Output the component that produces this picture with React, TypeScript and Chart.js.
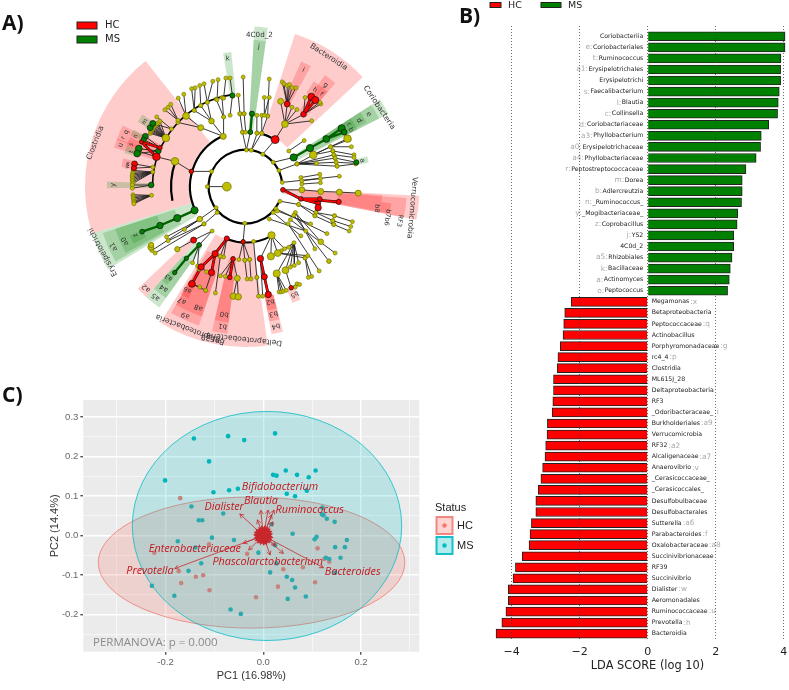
import React, { useEffect, useRef } from "react";
import { Chart, registerables } from "chart.js";
Chart.register(...registerables);

/* ---------- Panel B data ---------- */
const msNames = ["Coriobacteriia","Coriobacteriales","Ruminococcus","Erysipelotrichales","Erysipelotrichi","Faecalibacterium","Blautia","Collinsella","Coriobacteriaceae","Phyllobacterium","Erysipelotrichaceae","Phyllobacteriaceae","Peptostreptococcaceae","Dorea","Adlercreutzia","_Ruminococcus_","_Mogibacteriaceae_","Coprobacillus","YS2","4C0d_2","Rhizobiales","Bacillaceae","Actinomyces","Peptococcus"];
const msKeys = ["","e:","t:","a1:","","s:","l:","c:","d:","a3:","a0:","a4:","r:","m:","b:","n:","y:","z:","j:","","a5:","k:","a:","o:"];
const msScores = [4.04,4.04,3.92,3.91,3.91,3.87,3.84,3.82,3.56,3.34,3.32,3.19,2.89,2.78,2.78,2.76,2.65,2.63,2.53,2.53,2.48,2.43,2.40,2.35];
const hcNames = ["Megamonas","Betaproteobacteria","Peptococcaceae","Actinobacillus","Porphyromonadaceae","rc4_4","Clostridia","ML615J_28","Deltaproteobacteria","RF3","_Odoribacteraceae_","Burkholderiales","Verrucomicrobia","RF32","Alcaligenaceae","Anaerovibrio","_Cerasicoccaceae_","_Cerasicoccales_","Desulfobulbaceae","Desulfobacterales","Sutterella","Parabacteroides","Oxalobacteraceae","Succinivibrionaceae","RF39","Succinivibrio","Dialister","Aeromonadales","Ruminococcaceae","Prevotella","Bacteroidia"];
const hcKeys = [":x","",":q","",":g",":p","","","","",":i",":a9","",":a2",":a7",":v","","","","",":a6",":f",":a8","","","",":w","",":u",":h",""];
const hcScores = [-2.25,-2.44,-2.47,-2.49,-2.57,-2.64,-2.66,-2.77,-2.77,-2.79,-2.81,-2.95,-2.96,-3.0,-3.02,-3.09,-3.14,-3.22,-3.29,-3.29,-3.42,-3.46,-3.49,-3.69,-3.89,-3.96,-4.10,-4.10,-4.17,-4.29,-4.46];
const ldaTicks = [-4,-2,0,2,4];

/* ---------- Panel C data ---------- */
const msPoints = [[0.024,0.259],[-0.072,0.252],[-0.039,0.242],[-0.142,0.246],[-0.111,0.188],[-0.201,0.140],[0.020,0.154],[0.027,0.152],[0.046,0.165],[0.069,0.154],[0.107,0.165],[0.093,0.148],[-0.102,0.110],[-0.070,0.115],[-0.052,0.119],[0.048,0.106],[0.065,0.100],[0.089,0.114],[-0.147,0.074],[-0.082,0.056],[-0.132,0.039],[-0.125,0.039],[0.017,0.029],[0.121,0.071],[0.120,0.054],[0.123,0.052],[0.130,0.043],[0.146,0.035],[0.060,0.005],[0.171,-0.011],[0.109,-0.003],[0.105,-0.009],[0.167,-0.029],[0.147,-0.029],[0.158,-0.056],[0.128,-0.056],[0.135,-0.059],[-0.105,-0.005],[-0.060,-0.011],[-0.175,-0.014],[-0.139,-0.030],[-0.127,-0.070],[-0.153,-0.089],[-0.010,-0.043],[0.027,-0.070],[0.014,-0.093],[0.048,-0.104],[0.059,-0.112],[0.065,-0.131],[0.050,-0.160],[0.087,-0.154],[-0.046,-0.198],[-0.067,-0.187],[-0.182,-0.152],[-0.228,-0.127],[0.024,-0.024],[0.147,-0.094]];
const hcPoints = [[-0.170,0.095],[-0.111,-0.022],[-0.223,-0.043],[-0.033,-0.046],[-0.173,-0.090],[-0.123,-0.100],[-0.138,-0.104],[-0.168,-0.120],[-0.110,-0.138],[-0.015,-0.156],[0.030,-0.129],[0.041,-0.085],[0.081,-0.080],[0.106,-0.118],[0.111,-0.032],[0.125,-0.059],[0.135,-0.066]];
const longArrows = [[-0.181,-0.083],[0.123,-0.081],[-0.048,0.055],[-0.005,0.064],[0.010,0.065],[0.022,0.065],[0.017,0.053],[-0.041,-0.019],[-0.030,-0.036],[0.041,-0.045],[0.014,-0.049],[0.025,-0.025],[-0.012,0.040],[0.020,0.035]];
const shortArrows = [[0.016,0.004],[0.015,0.010],[0.012,0.015],[0.008,0.018],[0.003,0.022],[-0.003,0.021],[-0.008,0.018],[-0.013,0.014],[-0.016,0.008],[-0.017,0.002],[-0.016,-0.005],[-0.014,-0.011],[-0.010,-0.016],[-0.005,-0.019],[0.001,-0.021],[0.006,-0.020],[0.011,-0.016],[0.015,-0.010],[0.017,-0.004],[0.009,0.008],[-0.008,0.007],[-0.009,-0.008],[0.008,-0.009],[0.004,0.012],[-0.004,0.013],[-0.012,0.002],[0.012,-0.002],[0.002,-0.012],[-0.003,-0.011],[0.006,0.003],[-0.006,-0.002],[0,0.006],[0,-0.005],[0.012,0.009],[-0.012,0.009],[-0.012,-0.008],[0.012,-0.008],[0.006,0.015],[-0.006,0.016],[0.006,-0.015],[-0.006,-0.015]];
const biplotNames = ["Bifidobacterium","Blautia","Dialister","Ruminococcus","Enterobacteriaceae","Prevotella","Phascolarctobacterium","Bacteroides"];
const biplotX = [0.034,-0.005,-0.080,0.095,-0.140,-0.232,0.009,0.183];
const biplotY = [0.124,0.089,0.073,0.064,-0.034,-0.089,-0.067,-0.092];
const hcEllipse = [-0.024,-0.068,0.3137,0.166];
const msEllipse = [0.0076,0.0246,0.2756,0.29];

/* ---------- Panel A data (cladogram, in image units, centre 587,560) ---------- */
const R = "rgba(255,0,0,0.2)";
const G = "rgba(0,128,0,0.2)";
const cladeWedges: any[] = [
  [-107,-38.5,175,492,R],[18,47,175,492,R],[24,28.5,285,420,R],[35.5,41,285,420,R],[33,38,342,385,R],[37.5,41,342,385,R],
  [57,63,172,492,G],[57,63,228,460,G],[57,62,285,420,G],[57,60,342,385,G],[60,63,342,385,G],[76,79,345,385,G],
  [3.2,8,172,492,G],[3.2,8,228,450,G],[-9.5,-6,285,415,G],
  [93,101,115,534,R],[94,101,172,495,R],[96.5,100.5,285,450,R],[93.5,96.5,285,420,R],
  [172,190,172,492,R],[190,212,172,492,R],[198.5,210.5,228,450,R],[198.5,204,285,420,R],[204,210.5,285,420,R],[207,211,342,385,R],
  [187,193,228,455,R],[187,193,285,420,R],[165.5,170,342,460,R],[165.5,170,342,420,R],[165.5,170,342,385,R],[154,158,342,385,R],
  [222,226.5,228,455,R],[215.5,222,228,455,G],[215.5,222,285,420,G],[218.5,221.5,342,385,G],
  [-121,-107,172,492,G],[-120,-108,228,460,G],[-119,-108,285,420,G],[-117,-113,342,385,G],
  [-90.7,-87.9,285,425,G],[-73.5,-69.5,285,420,R],[-70,-66.5,285,420,R],[-66.5,-63.5,285,420,R],[-74.5,-71,342,385,G],[-71,-67,342,385,R],[-66,-63,342,385,G],[-59,-55,342,385,G],[-81,-77,342,385,R],
];
const ringArcs = [[113,116,442,2.2],[170,-116,-23,2.2],[170,17,32,2.2],[171,152,200,2],[228,-101,-70,2.2],[285,-89,-8,1.6]];
const thinLinks: number[][] = [
  [470,560,530,560],[483,513,421,513],[421,513,371,482],[371,482,314,468],
  [519,405,450,378,483,358],[450,378,405,342,380,362],[483,358,430,325,450,310,470,300],[520,345,497,290,515,285],[519,405,520,345],[540,340,547,279],
  [405,342,381,287,398,275],[430,325,433,255,422,258],[450,310,447,248],[470,300,460,243,487,235],[500,292,503,230],[520,287,527,225],[547,279,540,225],
  [343,410,295,396,296,392,298,388,300,385,302,382,304,379,306,376,309,373,312,370,315,367,318,364,325,358],[380,355,340,323,350,315,358,306],[360,382,315,345,303,365],
  [314,468,262,452,268,422],[303,515,243,510,242,515,241,520,240,525,240,530,240,535,240,540,241,545,242,550],[298,555,240,555,240,565],[299,587,242,585,243,590,243,595,244,600,245,605,245,609,245,613],[303,500,247,490,245,503],
  [320,450,260,443,255,458],[325,440,280,405,275,415],
  [590,447,578,392,602,392],[605,448,623,395,637,395],[578,392,570,335],[588,392,583,335],[570,335,565,278],[583,335,580,222],[622,395,622,340],[637,395,637,340,655,342],[655,342,660,228],[645,340,645,285,660,285],
  [640,460,678,415],[678,415,708,367],[708,367,695,297,715,305,730,315,745,322,765,337,790,357],[715,305,700,237,705,243,715,248,722,245,730,255,742,255],[765,337,818,305,815,300,770,285],
  [672,485,735,470],[690,510,745,490],[745,490,795,462,805,488],[720,450,767,418],[795,462,900,412,848,437,855,450],[848,437,905,415,912,437],[855,450,920,462],[858,462,920,470],[862,472,927,485],[865,485,925,488],[868,497,925,490],[745,490,858,462,862,472,865,485,868,497],
  [700,547,875,528],[757,532,815,522],[760,552,817,548],[760,542,817,535],
  [702,570,760,570],[760,570,818,575],[818,575,875,577],[875,577,933,580],[693,605,750,615],[750,615,803,640,800,650],[803,640,860,650,855,665],[800,650,858,677],[860,650,915,668],[855,665,910,683],[858,677,905,697],
  [680,628,837,705],[685,635,787,675],[672,640,757,712],[660,660,772,697],[740,640,800,752,818,730],[735,648,843,790],[725,662,862,765],[718,675,813,820],
  [585,673,580,730],[497,625,448,660],[500,640,460,675],[448,660,345,715,300,757,400,692],[460,675,350,727,310,765],[485,697,428,725,445,740],[428,725,378,753],[445,740,425,795,440,805],
  [530,720,510,775,520,777],[510,775,495,888],[549,783,510,835,525,837],[451,808,468,823,445,815],[423,860,447,870,465,880],[483,825,465,880],
  [580,730,567,785,585,787,600,785],[585,787,592,845],[600,785,604,845],[612,729,622,840],[622,840,627,898],[633,782,640,898],
  [562,843,550,898,565,900],[549,783,562,843],
  [667,710,633,782,665,775,686,765,707,752],[736,733,683,828,710,818,725,808,737,803,750,795,697,758,720,747],[683,828,690,885,697,885,703,883,712,880],[727,872,745,860,753,862,740,870],[710,818,727,872],[770,780,790,837,780,840],[686,765,770,780,778,773],
];
const redLinks: number[][] = [[757,598,810,612,815,598,873,607],[702,570,757,598],[765,337,789,283,801,293],[314,468,268,422],[268,422,325,440],[451,808,423,860],[494,767,451,808,483,825],[530,720,494,767],[549,783,539,840],[633,782,645,838],[645,838,657,893],[810,612,810,625]];
const greenLinks: number[][] = [[431,633,378,657],[378,657,325,680],[325,680,270,699],[735,470,785,441],[785,441,835,413],[835,413,882,380,890,392],[602,392,607,335],[445,740,406,781],[406,781,370,825],[303,365,295,378]];
const bigYellow = [[530,560,4.4],[371,482,3.8],[343,410,3.8],[519,405,3],[450,378,3],[483,358,2.8],[405,342,3.4],[708,367,3.4],[795,462,3.8],[900,412,3.8],[933,580,3],[875,577,3],[818,575,3],[760,570,3],[667,710,3.6],[665,775,3.6],[686,765,3.4],[562,843,3],[550,898,3.2],[565,900,3.2],[683,828,3.6],[710,818,3.4],[378,753,2.6],[447,660,2.8],[297,747,3],[695,297,3],[843,790,2.2],[818,730,2.8],[298,740,2.6]];
const redNodes = [[421,513,2.2],[314,468,3.8],[678,415,4],[715,305,3],[765,337,2.8],[789,283,3.6],[801,293,3.6],[325,440,2.2],[268,422,2],[247,490,3],[245,503,2.6],[702,570,2.4],[757,598,2.4],[815,598,2.4],[810,612,2.6],[810,625,3.2],[873,607,2.6],[428,725,3],[530,720,2.6],[580,730,2.2],[494,767,3.2],[549,783,2.4],[451,808,3.2],[483,825,3.2],[423,860,3.4],[539,840,2.4],[633,782,3.2],[645,838,3],[657,893,3.2],[727,872,2.2]];
const greenNodes = [[547,279,2.6],[607,335,2.6],[602,392,2.4],[735,470,3.6],[785,441,3.6],[835,413,3.4],[882,380,3.6],[890,392,2.8],[927,485,2.6],[431,633,3.6],[378,657,3.6],[325,680,3.2],[270,699,2.4],[445,740,2.4],[406,781,2.2],[370,825,2.2],[298,555,2.8],[295,378,3],[303,365,3],[280,405,3],[275,415,2.6],[320,450,2.8],[260,443,3.4],[255,458,3.4]];
const cladeLabels: any[] = [
  ["Clostridia",127,425,-69,7.6],["Bacteroidia",842,160,33,7.6],["Coriobacteria",997,316,56,7.6],["Verrucomicrobia",1098,625,95,7.6],
  ["Deltaproteobacteria",583,1030,186,7.6],["Betaproteobacteria",418,1000,201,7.6],["RF39",480,1027,190,7.6],["Erysipelotrichi",150,762,242,7.6],
  ["4C0d_2",630,92,0,7.2],["j",628,128,5,7],["k",533,165,-8,7],["i",765,200,26,7],["g",833,247,38,7],["h",800,262,36,6.5],["f",820,275,39,6.5],
  ["e",965,337,61,7],["d",935,356,60,7],["c",905,368,60,6.5],["b",910,385,62,6.5],["a",945,480,77,7],
  ["RF3",1060,665,100,6.5],["b7b6",1022,655,98,6.5],["b8",990,627,96,6.5],
  ["b0",522,953,189,7],["b1",517,990,189,7],["b2",663,915,168,6.5],["b3",673,952,168,7],["b4",680,990,168,7],["b5",737,892,156,6.5],
  ["a9",403,957,205,7],["a8",443,933,201,7],["a7",393,912,209,7],["a6",410,878,209,6.5],["a5",312,900,219,7],["a4",337,873,219,7],["a3",352,840,220,6.5],["a2",283,873,224,7],
  ["a1",183,745,240,7],["a0",218,728,240,7],["z",250,710,243,6.5],["y",182,555,-90,7],["u",205,432,-71,7],["r",212,410,-68,6.5],["q",222,392,-65,6.5],["t",237,452,-73,6],["s",237,430,-70,6],["n",250,405,-65,6],["m",278,360,-57,6],["x",227,488,-79,6],["w",225,497,-80,6],
];

const panelLetters = [["A)",2,8],["B)",459,1],["C)",2,380]];

const ldaColor = (v: number) => (v > 0 ? "#008000" : "#ff0000");
const toPts = (p: number[][]) => p.map(([x, y]) => ({ x, y }));
const flatten = (links: number[][]) => {
  const out: any[] = [];
  links.forEach((l) => {
    for (let i = 2; i < l.length; i += 2) {
      out.push({ x: l[0], y: l[1] }, { x: l[i], y: l[i + 1] }, { x: null, y: null });
    }
  });
  return out;
};
const endpoints = (links: number[][]) => {
  const out: any[] = [];
  links.forEach((l) => { for (let i = 0; i < l.length; i += 2) out.push({ x: l[i], y: l[i + 1] }); });
  return out;
};

const canvasStyle = (left: number, top: number) => ({ position: "absolute", left, top, filter: "blur(0.45px)" } as React.CSSProperties);

export default function App() {
  const aRef = useRef<HTMLCanvasElement>(null);
  const bRef = useRef<HTMLCanvasElement>(null);
  const cRef = useRef<HTMLCanvasElement>(null);

  useEffect(() => {
    document.body.style.margin = "0";
    /* ---------- A ---------- */
    const cladePlugin = {
      id: "clade",
      beforeDatasetsDraw(chart: any) {
        const { ctx, scales: { x, y } } = chart;
        const cx = x.getPixelForValue(587), cy = y.getPixelForValue(560);
        const k = x.getPixelForValue(1) - x.getPixelForValue(0);
        const rad = (a: number) => ((a - 90) * Math.PI) / 180;
        ctx.save();
        cladeWedges.forEach(([a0, a1, r0, r1, c]) => {
          ctx.beginPath();
          ctx.arc(cx, cy, r1 * k, rad(a0), rad(a1));
          ctx.arc(cx, cy, r0 * k, rad(a1), rad(a0), true);
          ctx.closePath();
          ctx.fillStyle = c;
          ctx.fill();
        });
        ctx.strokeStyle = "#000";
        ringArcs.forEach(([r, a0, a1, w]) => {
          ctx.beginPath();
          ctx.lineWidth = w;
          ctx.arc(cx, cy, r * k, rad(a0), rad(a1));
          ctx.stroke();
        });
        ctx.restore();
      },
      afterDatasetsDraw(chart: any) {
        const { ctx, scales: { x, y } } = chart;
        ctx.save();
        cladeLabels.forEach(([t, px, py, rot, size]) => {
          ctx.save();
          ctx.translate(x.getPixelForValue(px), y.getPixelForValue(py));
          ctx.rotate((rot * Math.PI) / 180);
          ctx.font = `${size}px "DejaVu Sans"`;
          ctx.fillStyle = "#333";
          ctx.textAlign = "center";
          ctx.textBaseline = "middle";
          ctx.fillText(t, 0, 0);
          ctx.restore();
        });
        ctx.lineWidth = 1;
        [["HC", "#ff0000", 22], ["MS", "#008000", 36]].forEach(([t, c, py]: any) => {
          ctx.fillStyle = c;
          ctx.strokeStyle = "#222";
          ctx.fillRect(77, py, 20, 7);
          ctx.strokeRect(77, py, 20, 7);
          ctx.fillStyle = "#222";
          ctx.font = '10px "DejaVu Sans"';
          ctx.textAlign = "left";
          ctx.textBaseline = "middle";
          ctx.fillText(t, 105, py + 3.5);
        });
        ctx.restore();
      },
    };
    const pointDs = (list: number[][], color: string, edge: string) => ({
      type: "scatter" as const,
      data: list.map(([x, y]) => ({ x, y })),
      pointRadius: list.map((p) => p[2]),
      pointBackgroundColor: color,
      pointBorderColor: edge,
      pointBorderWidth: 0.7,
    });
    const lineDs = (links: number[][], color: string, width: number) => ({
      type: "line" as const,
      data: flatten(links),
      borderColor: color,
      borderWidth: width,
      pointRadius: 0,
      spanGaps: false,
      fill: false,
    });
    const a = new Chart(aRef.current!, {
      type: "scatter",
      data: {
        datasets: [
          pointDs(redNodes, "#ff0000", "#111"),
          pointDs(greenNodes, "#008000", "#111"),
          pointDs(bigYellow, "#bfbf00", "#6d6d00"),
          { type: "scatter", data: endpoints(thinLinks), pointRadius: 2, pointBackgroundColor: "#bfbf00", pointBorderColor: "#6d6d00", pointBorderWidth: 0.6 },
          lineDs(redLinks, "#ff0000", 1.8),
          lineDs(greenLinks, "#006400", 2.4),
          lineDs(redLinks, "#111", 2.8),
          lineDs(thinLinks, "#222", 0.9),
        ] as any,
      },
      options: {
        responsive: false, animation: false,
        layout: { padding: 0 },
        plugins: { legend: { display: false }, tooltip: { enabled: false } },
        scales: {
          x: { type: "linear", min: -150, max: 1260, display: false },
          y: { type: "linear", min: 0, max: 1110, reverse: true, display: false },
        },
      },
      plugins: [cladePlugin],
    } as any);

    /* ---------- B ---------- */
    const allScores = [...msScores, ...hcScores];
    const ldaPlugin = {
      id: "ldaLabels",
      afterDatasetsDraw(chart: any) {
        const { ctx, scales: { x, y } } = chart;
        const x0 = x.getPixelForValue(0);
        ctx.save();
        ctx.textBaseline = "middle";
        const nameFont = '6.2px "DejaVu Sans"';
        const keyFont = '7.4px "DejaVu Sans"';
        msNames.forEach((n, i) => {
          const py = y.getPixelForValue(i);
          ctx.textAlign = "right";
          ctx.font = nameFont;
          ctx.fillStyle = "#222";
          ctx.fillText(n, x0 - 4.4, py);
          const w = ctx.measureText(n).width;
          ctx.font = keyFont;
          ctx.fillStyle = "#aaa";
          ctx.fillText(msKeys[i], x0 - 4.4 - w - 0.5, py);
        });
        hcNames.forEach((n, i) => {
          const py = y.getPixelForValue(i + msNames.length);
          ctx.textAlign = "left";
          ctx.font = nameFont;
          ctx.fillStyle = "#222";
          ctx.fillText(n, x0 + 4, py);
          const w = ctx.measureText(n).width;
          ctx.font = keyFont;
          ctx.fillStyle = "#aaa";
          ctx.fillText(hcKeys[i], x0 + 4 + w + 1, py);
        });
        [["HC", "#ff0000", 490, 11, 508], ["MS", "#008000", 541, 20, 568]].forEach(([t, c, px, w, tx]: any) => {
          ctx.fillStyle = c;
          ctx.strokeStyle = "#222";
          ctx.lineWidth = 1;
          ctx.fillRect(px - 470, 2.5, w, 5);
          ctx.strokeRect(px - 470, 2.5, w, 5);
          ctx.fillStyle = "#222";
          ctx.font = '9.5px "DejaVu Sans"';
          ctx.textAlign = "left";
          ctx.fillText(t, tx - 470, 5.5);
        });
        ctx.restore();
      },
    };
    const b = new Chart(bRef.current!, {
      type: "bar",
      data: {
        datasets: [{
          data: allScores.map((v, i) => ({ x: v, y: i })),
          backgroundColor: allScores.map(ldaColor),
          borderColor: "#222",
          borderWidth: 1,
          barThickness: 9,
        }],
      },
      options: {
        indexAxis: "y",
        responsive: false, animation: false,
        layout: { padding: { top: 26 }, autoPadding: false },
        plugins: { legend: { display: false }, tooltip: { enabled: false } },
        scales: {
          x: {
            type: "linear", min: -5.226, max: 5.215,
            afterBuildTicks: (s: any) => { s.ticks = ldaTicks.map((value) => ({ value })); },
            afterFit: (s: any) => { s.height = 49; s.paddingLeft = 0; s.paddingRight = 0; },
            grid: { color: "rgba(60,60,60,0.75)", lineWidth: 1, drawTicks: false, z: 1 },
            border: { display: false, dash: [1, 2] },
            ticks: { color: "#222", font: { family: "DejaVu Sans", size: 11 }, padding: 5, maxRotation: 0, autoSkip: false, callback: (v: any) => String(v).replace("-", "−") },
            title: { display: true, text: "LDA SCORE (log 10)", color: "#222", font: { family: "DejaVu Sans", size: 11.4 }, padding: { top: 0, bottom: 17.3 } },
          },
          y: { type: "linear", reverse: true, min: -0.93, max: 54.66, display: false, offset: false },
        },
      },
      plugins: [ldaPlugin],
    } as any);

    /* ---------- C ---------- */
    const pcaPlugin = {
      id: "pca",
      beforeDraw(chart: any) {
        const { ctx, chartArea: ca } = chart;
        ctx.save();
        ctx.fillStyle = "#ebebeb";
        ctx.fillRect(ca.left, ca.top, ca.width, ca.height);
        ctx.restore();
      },
      afterDatasetsDraw(chart: any) {
        const { ctx, scales: { x, y } } = chart;
        const px = (v: number) => x.getPixelForValue(v);
        const py = (v: number) => y.getPixelForValue(v);
        ctx.save();
        ([[hcEllipse, "rgba(248,118,109,0.22)", "rgba(240,110,100,0.7)"], [msEllipse, "rgba(0,191,196,0.2)", "rgba(0,185,195,0.75)"]] as any[]).forEach(([e, f, s]) => {
          ctx.beginPath();
          ctx.ellipse(px(e[0]), py(e[1]), px(e[0] + e[2]) - px(e[0]), py(e[1] - e[3]) - py(e[1]), 0, 0, Math.PI * 2);
          ctx.fillStyle = f;
          ctx.fill();
          ctx.strokeStyle = s;
          ctx.lineWidth = 1;
          ctx.stroke();
        });
        const arrow = (tx: number, ty: number, w: number, head: number) => {
          const x0 = px(0), y0 = py(0), x1 = px(tx), y1 = py(ty);
          const a = Math.atan2(y1 - y0, x1 - x0);
          ctx.lineWidth = w;
          ctx.beginPath();
          ctx.moveTo(x0, y0);
          ctx.lineTo(x1, y1);
          ctx.moveTo(x1 - head * Math.cos(a - 0.5), y1 - head * Math.sin(a - 0.5));
          ctx.lineTo(x1, y1);
          ctx.lineTo(x1 - head * Math.cos(a + 0.5), y1 - head * Math.sin(a + 0.5));
          ctx.stroke();
        };
        ctx.strokeStyle = "#c8282d";
        longArrows.forEach(([tx, ty]) => arrow(tx, ty, 0.8, 4.5));
        shortArrows.forEach(([tx, ty]) => arrow(tx, ty, 2, 3));
        ctx.fillStyle = "#c4161c";
        ctx.font = 'italic 10.8px "Open Sans"';
        ctx.textAlign = "center";
        ctx.textBaseline = "middle";
        biplotNames.forEach((n, i) => ctx.fillText(n, px(biplotX[i]), py(biplotY[i])));
        ctx.fillStyle = "#8a8a8a";
        ctx.font = '11.5px "Open Sans"';
        ctx.textAlign = "left";
        ctx.fillText("PERMANOVA: p = 0.000", 93, 263);
        // legend
        ctx.fillStyle = "#222";
        ctx.font = '11px "Liberation Sans"';
        ctx.fillText("Status", 435, 128);
        [["HC", 137, "rgba(248,118,109,0.3)", "rgba(240,110,100,0.8)", "#f8766d"], ["MS", 157, "rgba(0,191,196,0.3)", "rgba(0,185,195,0.9)", "#00bfc4"]].forEach(([t, ty, f, s, d]: any) => {
          ctx.fillStyle = f;
          ctx.strokeStyle = s;
          ctx.fillRect(436.5, ty, 16, 17);
          ctx.strokeRect(436.5, ty, 16, 17);
          ctx.fillStyle = d;
          ctx.beginPath();
          ctx.arc(444.5, ty + 8.5, 2.2, 0, Math.PI * 2);
          ctx.fill();
          ctx.fillStyle = "#222";
          ctx.fillText(t, 457, ty + 9);
        });
        ctx.restore();
      },
    };
    const gridOf = (major: number[]) => ({
      color: "#ffffff",
      lineWidth: (c: any) => (major.includes(c.tick?.value) ? 1.4 : 0.6),
      tickColor: (c: any) => (major.includes(c.tick?.value) ? "#555" : "rgba(0,0,0,0)"),
      tickLength: 3,
    });
    const xMajor = [-0.2, 0, 0.2];
    const yMajor = [-0.2, -0.1, 0, 0.1, 0.2, 0.3];
    const c = new Chart(cRef.current!, {
      type: "scatter",
      data: {
        datasets: [
          { label: "MS", data: toPts(msPoints), pointRadius: 2.3, pointBackgroundColor: "#00b4ba", pointBorderWidth: 0 },
          { label: "HC", data: toPts(hcPoints), pointRadius: 2.3, pointBackgroundColor: "#f8766d", pointBorderWidth: 0 },
        ],
      },
      options: {
        responsive: false, animation: false,
        layout: { padding: { top: 20, right: 70.7 }, autoPadding: false },
        plugins: { legend: { display: false }, tooltip: { enabled: false } },
        scales: {
          x: {
            type: "linear", min: -0.3683, max: 0.3192,
            afterBuildTicks: (s: any) => { s.ticks = [-0.3, -0.2, -0.1, 0, 0.1, 0.2, 0.3].map((value) => ({ value })); },
            afterFit: (s: any) => { s.height = 38.3; s.paddingLeft = 0; s.paddingRight = 0; },
            grid: gridOf(xMajor), border: { display: false },
            ticks: { color: "#666", font: { family: "Liberation Sans", size: 9.5 }, padding: 2, maxRotation: 0, autoSkip: false, callback: (v: any) => (xMajor.includes(v) ? Number(v).toFixed(1) : "") },
            title: { display: true, text: "PC1 (16.98%)", color: "#333", font: { family: "Liberation Sans", size: 11 }, padding: { top: 0, bottom: 7.4 } },
          },
          y: {
            type: "linear", min: -0.2937, max: 0.3435,
            afterBuildTicks: (s: any) => { s.ticks = [-0.25, -0.2, -0.15, -0.1, -0.05, 0, 0.05, 0.1, 0.15, 0.2, 0.25, 0.3].map((value) => ({ value })); },
            afterFit: (s: any) => { s.width = 83.3; s.paddingTop = 0; s.paddingBottom = 0; },
            grid: gridOf(yMajor), border: { display: false },
            ticks: { color: "#666", font: { family: "Liberation Sans", size: 9.5 }, padding: 2, autoSkip: false, callback: (v: any) => (yMajor.includes(v) ? Number(v).toFixed(1) : "") },
            title: { display: true, text: "PC2 (14.4%)", color: "#333", font: { family: "Liberation Sans", size: 11 }, padding: { top: 48, bottom: 0 } },
          },
        },
      },
      plugins: [pcaPlugin],
    } as any);

    return () => { a.destroy(); b.destroy(); c.destroy(); };
  }, []);

  return (
    <div style={{ position: "relative", width: 789, height: 690, overflow: "hidden", background: "#fff" }}>
      <canvas ref={aRef} width={470} height={370} style={canvasStyle(0, 0)} />
      <canvas ref={bRef} width={355} height={690} style={canvasStyle(470, 0)} />
      <canvas ref={cRef} width={490} height={310} style={canvasStyle(0, 380)} />
      {panelLetters.map(([t, l, tp]) => (
        <div key={t as string} style={{ position: "absolute", left: l as number, top: tp as number, font: 'bold 21px "Open Sans"', color: "#111" }}>{t}</div>
      ))}
    </div>
  );
}
